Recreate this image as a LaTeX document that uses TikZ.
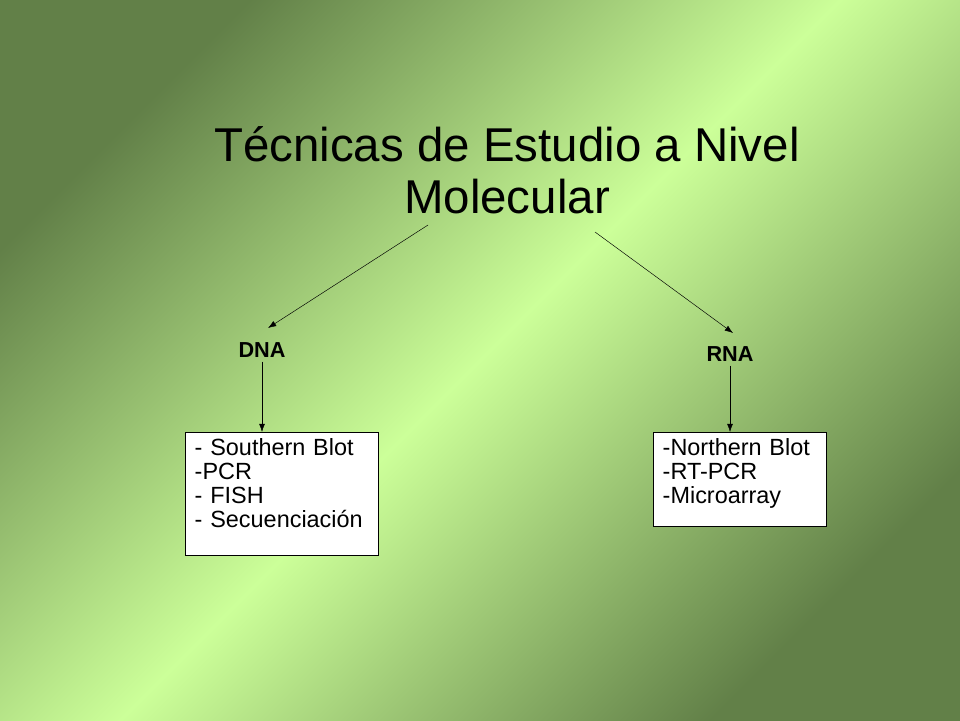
\documentclass[tikz,border=0pt]{standalone}
\usepackage{fontspec}
\setmainfont{Liberation Sans}
\usetikzlibrary{positioning,arrows.meta}
\definecolor{bgdark}{RGB}{98,128,72}
\definecolor{bglight}{RGB}{204,255,153}
\begin{document}
\begin{tikzpicture}[x=0.03cm,y=-0.03cm,
        label/.style={font=\fontsize{18.5}{22}\selectfont\bfseries},
        link/.style={-{Latex[length=7pt,width=5pt]}},
        listbox/.style={draw,semithick,fill=white,align=left,inner xsep=8pt,inner ysep=5.5pt,
          font=\fontsize{20}{20.5}\selectfont,anchor=north west}]
   \shade[top color=bgdark,bottom color=bgdark,middle color=bglight,shading angle=45]
      (0,0) rectangle (960,720);
   \useasboundingbox (0,0) rectangle (960,720);
   \node (title) [align=center,font=\fontsize{40.5}{44}\selectfont] at (507,170)
      {Técnicas de Estudio a Nivel\\Molecular};
   \node (dna) [label] at (262,350) {DNA};
   \node (rna) [label] at (730,354) {RNA};
   \coordinate (tl) at (428,225);
   \coordinate (tr) at (595,232);
   \draw[link] (tl) -- (268,328);
   \draw[link] (tr) -- (733,333);
   \node (dnabox) [listbox,text width=193*0.03cm-16pt] at (185,432)
      {- Southern Blot\\-PCR\\- FISH\\- Secuenciación\\[-2.5pt]\mbox{}};
   \node (rnabox) [listbox,text width=173*0.03cm-16pt] at (653,432)
      {-Northern Blot\\-RT-PCR\\-Microarray\\[-7pt]\mbox{}};
   \draw[link] (dna.south) -- (dna.south |- dnabox.north);
   \draw[link] (rna.south) -- (rna.south |- rnabox.north);
\end{tikzpicture}
\end{document}
